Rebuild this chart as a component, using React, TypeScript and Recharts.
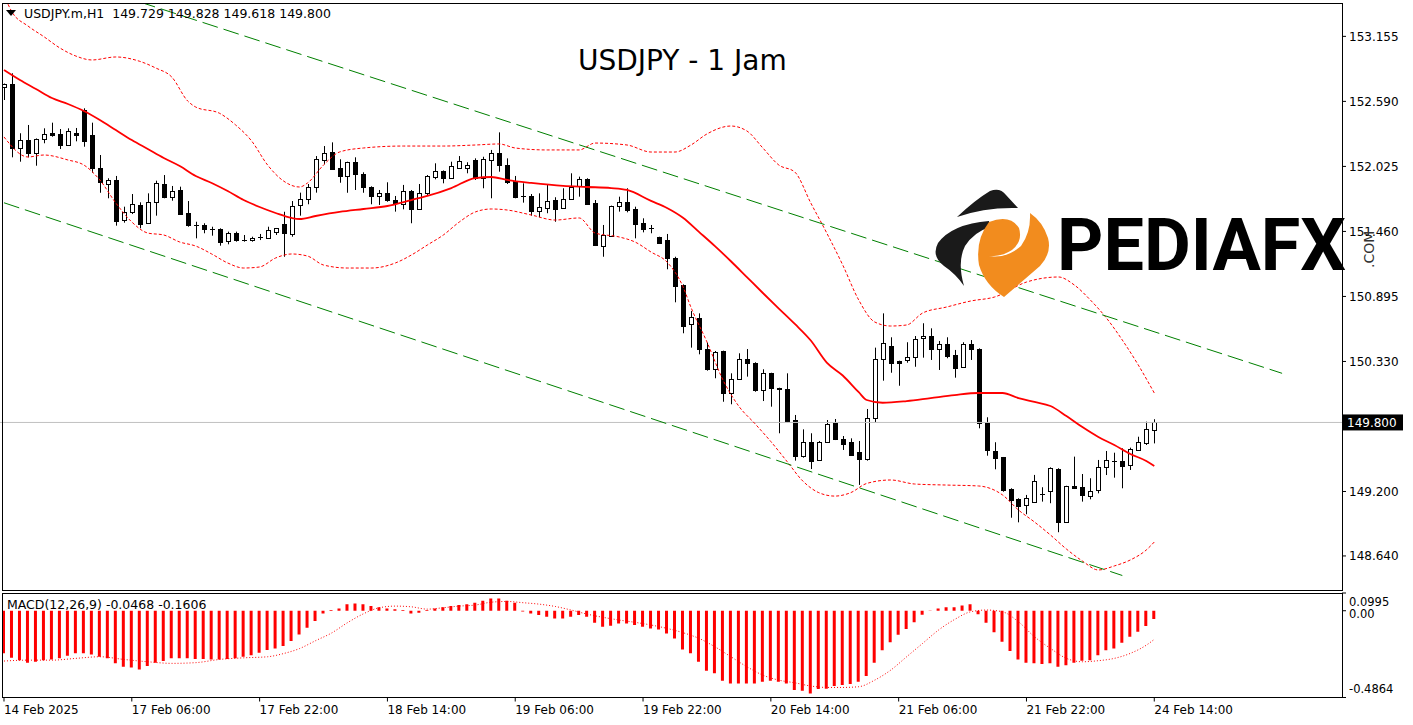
import React from 'react';
import { ComposedChart, Bar, Line, XAxis, YAxis, ReferenceLine } from 'recharts';

const FONT = '"DejaVu Sans", Verdana, sans-serif';

// ---- candles (H1) ----
const opens = [
  152.711, 152.741, 152.182, 152.254, 152.144, 152.261, 152.318, 152.307, 152.214, 152.318,
  152.515, 152.298, 152.008, 151.875, 151.907, 151.553, 151.626, 151.690, 151.531, 151.713,
  151.872, 151.762, 151.820, 151.617, 151.516, 151.516, 151.478, 151.481, 151.371, 151.449,
  151.385, 151.379, 151.414, 151.400, 151.449, 151.522, 151.444, 151.684, 151.739, 151.844,
  152.081, 152.148, 152.008, 151.936, 152.061, 151.956, 151.849, 151.762, 151.791, 151.733,
  151.698, 151.814, 151.655, 151.796, 151.936, 151.985, 151.927, 152.014, 152.008, 152.081,
  151.922, 152.081, 152.139, 152.037, 151.898, 151.768, 151.768, 151.631, 151.666, 151.733,
  151.661, 151.739, 151.849, 151.916, 151.704, 151.336, 151.423, 151.675, 151.713, 151.655,
  151.531, 151.487, 151.412, 151.385, 151.232, 150.994, 150.653, 150.705, 150.438, 150.262,
  150.421, 150.053, 150.175, 150.351, 150.314, 150.082, 150.227, 150.097, 150.088, 149.821,
  149.511, 149.633, 149.474, 149.628, 149.793, 149.656, 149.628, 149.541, 149.482, 149.836,
  150.349, 150.464, 150.334, 150.337, 150.366, 150.531, 150.551, 150.436, 150.482, 150.386,
  150.279, 150.482, 150.438, 149.793, 149.552, 149.497, 149.219, 149.135, 149.077, 149.112,
  149.178, 149.198, 149.393, 148.932, 149.248, 149.237, 149.164, 149.213, 149.416, 149.465,
  149.465, 149.424, 149.567, 149.624, 149.729,
];
const highs = [
  152.745, 152.834, 152.313, 152.385, 152.268, 152.356, 152.405, 152.350, 152.356, 152.359,
  152.530, 152.405, 152.124, 151.922, 151.942, 151.675, 151.785, 151.713, 151.791, 151.901,
  151.950, 151.855, 151.849, 151.724, 151.544, 151.531, 151.501, 151.487, 151.458, 151.458,
  151.429, 151.414, 151.438, 151.501, 151.490, 151.631, 151.724, 151.797, 151.872, 152.115,
  152.202, 152.234, 152.087, 152.066, 152.104, 151.974, 151.852, 151.820, 151.887, 151.768,
  151.864, 151.820, 151.872, 151.950, 152.052, 151.990, 152.066, 152.115, 152.061, 152.095,
  152.109, 152.168, 152.321, 152.095, 151.942, 151.878, 151.785, 151.791, 151.864, 151.757,
  151.835, 151.965, 151.936, 151.922, 151.733, 151.516, 151.684, 151.762, 151.835, 151.675,
  151.574, 151.516, 151.414, 151.438, 151.240, 151.000, 150.768, 150.748, 150.493, 150.421,
  150.424, 150.227, 150.401, 150.438, 150.323, 150.262, 150.232, 150.102, 150.227, 149.865,
  149.740, 149.706, 149.639, 149.821, 149.830, 149.682, 149.662, 149.639, 149.917, 150.450,
  150.748, 150.540, 150.337, 150.497, 150.551, 150.662, 150.618, 150.508, 150.540, 150.430,
  150.497, 150.516, 150.444, 149.845, 149.628, 149.500, 149.228, 149.141, 149.170, 149.344,
  149.237, 149.410, 149.402, 149.250, 149.503, 149.352, 149.315, 149.474, 149.552, 149.537,
  149.575, 149.581, 149.676, 149.807, 149.828,
];
const lows = [
  152.602, 152.104, 152.066, 152.104, 152.031, 152.226, 152.283, 152.176, 152.205, 152.243,
  152.196, 151.970, 151.796, 151.748, 151.510, 151.536, 151.611, 151.487, 151.525, 151.597,
  151.748, 151.727, 151.607, 151.501, 151.400, 151.444, 151.423, 151.336, 151.348, 151.371,
  151.371, 151.371, 151.385, 151.398, 151.429, 151.240, 151.414, 151.597, 151.696, 151.797,
  152.043, 151.994, 151.883, 151.796, 151.820, 151.796, 151.696, 151.690, 151.718, 151.632,
  151.652, 151.531, 151.651, 151.777, 151.913, 151.878, 151.922, 152.008, 151.965, 151.907,
  151.835, 151.748, 151.979, 151.872, 151.748, 151.710, 151.597, 151.583, 151.618, 151.544,
  151.657, 151.735, 151.762, 151.690, 151.333, 151.240, 151.420, 151.632, 151.626, 151.400,
  151.452, 151.444, 151.355, 151.131, 150.844, 150.575, 150.450, 150.392, 150.250, 150.184,
  149.980, 149.958, 150.169, 150.198, 150.067, 149.986, 149.937, 149.706, 149.801, 149.468,
  149.494, 149.395, 149.468, 149.624, 149.647, 149.561, 149.511, 149.257, 149.468, 149.801,
  150.163, 150.232, 150.119, 150.319, 150.284, 150.363, 150.343, 150.256, 150.358, 150.189,
  150.275, 150.343, 149.749, 149.511, 149.393, 149.198, 148.972, 148.932, 149.002, 149.109,
  149.112, 149.098, 148.846, 148.930, 149.222, 149.112, 149.132, 149.184, 149.343, 149.320,
  149.228, 149.387, 149.555, 149.604, 149.618,
];
const closes = [
  152.741, 152.182, 152.254, 152.144, 152.263, 152.307, 152.301, 152.214, 152.333, 152.301,
  152.248, 152.008, 151.883, 151.907, 151.553, 151.626, 151.696, 151.525, 151.713, 151.878,
  151.762, 151.811, 151.611, 151.510, 151.511, 151.478, 151.474, 151.371, 151.444, 151.385,
  151.381, 151.400, 151.412, 151.472, 151.487, 151.444, 151.684, 151.739, 151.844, 152.087,
  152.144, 152.003, 151.936, 152.061, 151.956, 151.844, 151.770, 151.791, 151.727, 151.704,
  151.814, 151.655, 151.791, 151.942, 151.985, 151.927, 152.029, 152.072, 152.037, 151.922,
  152.087, 152.139, 152.031, 151.892, 151.762, 151.764, 151.640, 151.670, 151.724, 151.655,
  151.739, 151.844, 151.913, 151.698, 151.336, 151.429, 151.681, 151.713, 151.640, 151.525,
  151.481, 151.483, 151.357, 151.227, 150.988, 150.641, 150.714, 150.436, 150.262, 150.410,
  150.053, 150.175, 150.349, 150.314, 150.076, 150.227, 150.097, 150.086, 149.813, 149.511,
  149.633, 149.468, 149.628, 149.787, 149.656, 149.613, 149.517, 149.482, 149.836, 150.349,
  150.488, 150.319, 150.319, 150.366, 150.523, 150.551, 150.436, 150.479, 150.380, 150.276,
  150.482, 150.436, 149.798, 149.555, 149.494, 149.213, 149.126, 149.077, 149.141, 149.294,
  149.172, 149.402, 148.932, 149.248, 149.233, 149.164, 149.207, 149.410, 149.474, 149.461,
  149.424, 149.567, 149.633, 149.743, 149.800,
];

// ---- Bollinger bands (bar index, price) ----
const upperBand: [number, number][] = [
  [0, 153.514], [1, 153.367], [3, 153.245], [5, 153.152], [7, 153.054], [9, 152.984], [11, 152.950],
  [14, 152.976], [17, 152.938], [19, 152.880], [21, 152.802], [23, 152.593], [24, 152.541], [27, 152.486],
  [29, 152.385], [31, 152.246], [33, 152.037], [35, 151.898], [37, 151.846], [38, 151.881], [40, 152.037],
  [42, 152.150], [45, 152.185], [50, 152.202], [55, 152.202], [59, 152.211], [62, 152.220], [64, 152.185],
  [68, 152.168], [72, 152.168], [74, 152.228], [78, 152.211], [81, 152.150], [84, 152.150], [86, 152.211],
  [88, 152.307], [91, 152.376], [93, 152.333], [95, 152.185], [97, 152.037], [99, 151.976], [101, 151.707],
  [103, 151.446], [105, 151.168], [107, 150.864], [109, 150.673], [111, 150.638], [113, 150.647],
  [115, 150.751], [118, 150.803], [121, 150.855], [124, 150.890], [128, 151.020], [132, 151.064],
  [134, 150.994], [136, 150.864], [138, 150.708], [140, 150.516], [142, 150.299], [144, 150.056],
];
const middleBand: [number, number][] = [
  [0, 152.863], [2, 152.776], [4, 152.698], [6, 152.619], [8, 152.567], [10, 152.506], [12, 152.428],
  [14, 152.341], [16, 152.254], [18, 152.176], [20, 152.098], [22, 152.028], [24, 151.942], [26, 151.881],
  [28, 151.811], [30, 151.733], [32, 151.672], [34, 151.620], [36, 151.577], [37, 151.568], [39, 151.594],
  [42, 151.629], [45, 151.655], [48, 151.681], [51, 151.733], [53, 151.768], [56, 151.837], [59, 151.924],
  [61, 151.933], [63, 151.907], [66, 151.881], [70, 151.855], [73, 151.846], [76, 151.837], [78, 151.820],
  [81, 151.725], [83, 151.664], [85, 151.579], [87, 151.456], [89, 151.332], [91, 151.201], [93, 151.063],
  [95, 150.925], [97, 150.790], [99, 150.656], [101, 150.512], [103, 150.320], [105, 150.208], [107, 150.063],
  [108, 149.995], [110, 149.971], [113, 149.986], [116, 150.012], [119, 150.038], [122, 150.056],
  [125, 150.056], [127, 150.012], [129, 149.978], [131, 149.943], [133, 149.856], [135, 149.760],
  [137, 149.674], [139, 149.604], [141, 149.526], [143, 149.465], [144, 149.422],
];
const lowerBand: [number, number][] = [
  [0, 152.281], [3, 152.107], [5, 152.124], [8, 152.081], [10, 152.037], [12, 151.907], [14, 151.707],
  [16, 151.542], [18, 151.446], [20, 151.429], [22, 151.368], [24, 151.333], [26, 151.264], [28, 151.186],
  [30, 151.142], [32, 151.151], [34, 151.229], [36, 151.264], [38, 151.246], [40, 151.168], [43, 151.142],
  [46, 151.142], [49, 151.186], [51, 151.255], [53, 151.342], [55, 151.429], [57, 151.542], [59, 151.629],
  [61, 151.655], [63, 151.646], [66, 151.603], [69, 151.559], [72, 151.577], [74, 151.446], [77, 151.412],
  [79, 151.368], [81, 151.281], [83, 151.194], [85, 150.980], [86, 150.800], [88, 150.500], [90, 150.170],
  [92, 149.940], [94, 149.790], [96, 149.634], [98, 149.463], [100, 149.291], [102, 149.190], [104, 149.160],
  [106, 149.190], [108, 149.270], [111, 149.300], [114, 149.265], [118, 149.256], [122, 149.248],
  [125, 149.170], [127, 149.039], [129, 148.935], [131, 148.822], [133, 148.700], [135, 148.596],
  [137, 148.518], [139, 148.553], [141, 148.605], [143, 148.692], [144, 148.761],
];

// ---- MACD(12,26,9) ----
const macdMain = [
  -0.239, -0.263, -0.277, -0.291, -0.286, -0.277, -0.273, -0.267, -0.252, -0.239,
  -0.239, -0.245, -0.258, -0.267, -0.295, -0.314, -0.318, -0.329, -0.310, -0.291,
  -0.282, -0.267, -0.267, -0.267, -0.271, -0.271, -0.273, -0.273, -0.271, -0.267,
  -0.258, -0.249, -0.235, -0.220, -0.211, -0.198, -0.170, -0.133, -0.095, -0.058,
  -0.015, 0.004, 0.013, 0.036, 0.041, 0.036, 0.026, 0.019, 0.013, 0.008,
  0.004, -0.015, -0.011, 0.004, 0.013, 0.019, 0.026, 0.032, 0.037, 0.045,
  0.056, 0.069, 0.069, 0.056, 0.045, -0.004, -0.015, -0.024, -0.034, -0.043,
  -0.043, -0.034, -0.024, -0.034, -0.067, -0.090, -0.084, -0.071, -0.071, -0.080,
  -0.090, -0.099, -0.105, -0.127, -0.155, -0.217, -0.239, -0.286, -0.336, -0.351,
  -0.393, -0.408, -0.408, -0.408, -0.408, -0.398, -0.393, -0.398, -0.408, -0.445,
  -0.449, -0.464, -0.439, -0.437, -0.422, -0.417, -0.411, -0.398, -0.366, -0.292,
  -0.221, -0.176, -0.135, -0.103, -0.064, -0.022, 0.002, 0.013, 0.019, 0.019,
  0.030, 0.037, -0.019, -0.067, -0.120, -0.174, -0.226, -0.273, -0.292, -0.295,
  -0.299, -0.295, -0.314, -0.305, -0.292, -0.280, -0.277, -0.249, -0.221, -0.211,
  -0.180, -0.146, -0.118, -0.086, -0.0468,
];
const macdSignal: [number, number][] = [
  [0, -0.282], [3, -0.277], [6, -0.277], [9, -0.267], [12, -0.258], [15, -0.273], [18, -0.286],
  [21, -0.295], [24, -0.291], [27, -0.273], [30, -0.264], [33, -0.258], [35, -0.240], [37, -0.212],
  [39, -0.168], [41, -0.125], [43, -0.067], [45, -0.017], [47, 0.017], [49, 0.026], [51, 0.022],
  [53, 0.009], [55, 0.017], [57, 0.026], [59, 0.032], [61, 0.048], [63, 0.052], [65, 0.045],
  [67, 0.037], [69, 0.024], [71, 0.004], [73, -0.019], [75, -0.037], [77, -0.052], [79, -0.065],
  [81, -0.080], [83, -0.099], [85, -0.123], [87, -0.155], [89, -0.202], [91, -0.258], [93, -0.314],
  [95, -0.361], [97, -0.389], [99, -0.404], [101, -0.422], [103, -0.430], [105, -0.430], [107, -0.426],
  [109, -0.389], [111, -0.333], [113, -0.258], [115, -0.183], [117, -0.108], [119, -0.049],
  [121, -0.006], [123, 0.004], [125, -0.006], [127, -0.062], [129, -0.146], [131, -0.211],
  [133, -0.267], [135, -0.286], [137, -0.280], [139, -0.267], [141, -0.239], [143, -0.193],
  [144, -0.1606],
];

// ---- trend channel (bar index, price) ----
const channelUpper: [number, number][] = [[17, 153.454], [160, 150.227]];
const channelLower: [number, number][] = [[0, 151.709], [140, 148.470]];

// ---- axes ----
const xTickIdx = [0, 16, 32, 48, 64, 80, 96, 112, 128, 144];
const xTickLabels = [
  '14 Feb 2025', '17 Feb 06:00', '17 Feb 22:00', '18 Feb 14:00', '19 Feb 06:00',
  '19 Feb 22:00', '20 Feb 14:00', '21 Feb 06:00', '21 Feb 22:00', '24 Feb 14:00',
];
const priceTicks = [153.155, 152.59, 152.025, 151.46, 150.895, 150.33, 149.8, 149.2, 148.64];
const macdTicks = [0.0995, 0, -0.4864];
const lastPrice = 149.8;
const priceDomain: [number, number] = [148.344, 153.445];
const macdDomain: [number, number] = [-0.4864, 0.0995];
const SLOTS = 168;

const priceRows = Array.from({ length: SLOTS }, (_, i) => ({
  i,
  o: i < opens.length ? opens[i] : null,
  h: i < highs.length ? highs[i] : null,
  l: i < lows.length ? lows[i] : null,
  c: i < closes.length ? closes[i] : null,
  bu: null as number | null,
  bm: null as number | null,
  bl: null as number | null,
}));
upperBand.forEach(([i, v]) => { priceRows[i].bu = v; });
middleBand.forEach(([i, v]) => { priceRows[i].bm = v; });
lowerBand.forEach(([i, v]) => { priceRows[i].bl = v; });

const macdRows = Array.from({ length: SLOTS }, (_, i) => ({
  i,
  m: i < macdMain.length ? macdMain[i] : null,
  s: null as number | null,
}));
macdSignal.forEach(([i, v]) => { macdRows[i].s = v; });

const Candle = (p: any) => {
  const { x, y, width, height, payload } = p;
  if (!payload || payload.o == null || height == null) return null;
  const { o, h, l, c } = payload;
  const cx = Math.round(x + width / 2) + 0.5;
  const span = h - l;
  const k = span > 0 ? height / span : 0;
  const yO = y + (h - o) * k;
  const yC = y + (h - c) * k;
  const top = Math.min(yO, yC);
  const bot = Math.max(yO, yC);
  const bull = c >= o;
  return (
    <g>
      <line x1={cx} x2={cx} y1={y} y2={y + height} stroke="#000" strokeWidth={1} />
      {bot - top < 1.2 ? (
        <line x1={cx - 2.5} x2={cx + 2.5} y1={Math.round(top) + 0.5} y2={Math.round(top) + 0.5} stroke="#000" strokeWidth={1} />
      ) : (
        <rect x={cx - 2} y={Math.round(top) + 0.5} width={4} height={Math.max(1, Math.round(bot - top))} fill={bull ? '#fff' : '#000'} stroke="#000" strokeWidth={1} />
      )}
    </g>
  );
};

const PriceTick = (p: any) => {
  const { x, y, payload } = p;
  const v = payload.value as number;
  if (Math.abs(v - lastPrice) < 1e-6) {
    return (
      <g>
        <rect x={1343} y={y - 8} width={60} height={16} fill="#000" />
        <text x={1347} y={y + 4.5} fill="#fff" fontSize={12} fontFamily={FONT}>{v.toFixed(3)}</text>
      </g>
    );
  }
  return (
    <text x={x} y={y + 4.3} fill="#000" fontSize={12} fontFamily={FONT} textAnchor="start">{v.toFixed(3)}</text>
  );
};

const MacdTick = (p: any) => {
  const { x, y, payload } = p;
  const v = payload.value as number;
  const shift = v > 0.05 ? 8.5 : v < -0.3 ? -8.5 : 3.5;
  const txt = v === 0 ? '0.00' : v.toFixed(4);
  return (
    <text x={x} y={y + shift + 4} fill="#000" fontSize={11.5} fontFamily={FONT} textAnchor="start">{txt}</text>
  );
};

const TimeTick = (p: any) => {
  const { x, y, payload } = p;
  const idx = xTickIdx.indexOf(payload.value);
  return (
    <text x={x} y={y + 10.5} fill="#000" fontSize={12} fontFamily={FONT} textAnchor="start">{idx >= 0 ? xTickLabels[idx] : ''}</text>
  );
};

export default function App() {
  return (
    <div style={{ position: 'absolute', left: 0, top: 0, width: 1413, height: 725, background: '#fff', overflow: 'hidden' }}>
      <div style={{ position: 'absolute', left: 0, top: 0 }}>
        <ComposedChart width={1413} height={591} data={priceRows} margin={{ top: 3, right: 0, bottom: 1, left: 0 }}>
          <XAxis dataKey="i" type="category" hide />
          <YAxis
            orientation="right"
            width={71}
            domain={priceDomain}
            allowDataOverflow
            ticks={priceTicks}
            interval={0}
            axisLine={false}
            tickLine={{ stroke: '#000' }}
            tickSize={4}
            tickMargin={3}
            tick={(props: any) => <PriceTick {...props} />}
          />
          <ReferenceLine y={lastPrice} stroke="#c0c0c0" strokeWidth={1} />
          <Bar
            dataKey={(d: any) => (d.o == null ? null : [d.l, d.h])}
            barSize={6}
            isAnimationActive={false}
            shape={(props: any) => <Candle {...props} />}
          />
          <Line dataKey="bu" type="monotone" stroke="#ff0000" strokeWidth={1} strokeDasharray="3 2" dot={false} connectNulls isAnimationActive={false} />
          <Line dataKey="bl" type="monotone" stroke="#ff0000" strokeWidth={1} strokeDasharray="3 2" dot={false} connectNulls isAnimationActive={false} />
          <Line dataKey="bm" type="monotone" stroke="#ff0000" strokeWidth={1.8} dot={false} connectNulls isAnimationActive={false} />
          <ReferenceLine
            segment={[{ x: channelUpper[0][0], y: channelUpper[0][1] }, { x: channelUpper[1][0], y: channelUpper[1][1] }]}
            stroke="#008000"
            strokeDasharray="16 6"
            ifOverflow="hidden"
          />
          <ReferenceLine
            segment={[{ x: channelLower[0][0], y: channelLower[0][1] }, { x: channelLower[1][0], y: channelLower[1][1] }]}
            stroke="#008000"
            strokeDasharray="16 6"
            ifOverflow="hidden"
          />
        </ComposedChart>
      </div>
      <div style={{ position: 'absolute', left: 0, top: 590 }}>
        <ComposedChart width={1413} height={135} data={macdRows} margin={{ top: 3, right: 0, bottom: 0, left: 0 }}>
          <XAxis
            dataKey="i"
            type="category"
            ticks={xTickIdx}
            interval={0}
            height={27.5}
            axisLine={false}
            tickLine={{ stroke: '#000' }}
            tickSize={4}
            tickMargin={2}
            tick={(props: any) => <TimeTick {...props} />}
          />
          <YAxis
            orientation="right"
            width={71}
            domain={macdDomain}
            allowDataOverflow
            ticks={macdTicks}
            interval={0}
            axisLine={false}
            tickLine={{ stroke: '#000' }}
            tickSize={4}
            tickMargin={3}
            tick={(props: any) => <MacdTick {...props} />}
          />
          <Bar dataKey="m" fill="#ff0000" barSize={3} isAnimationActive={false} />
          <Line dataKey="s" type="monotone" stroke="#ff0000" strokeWidth={1} strokeDasharray="1 2" dot={false} connectNulls isAnimationActive={false} />
        </ComposedChart>
      </div>
      <svg width={1413} height={725} style={{ position: 'absolute', left: 0, top: 0, pointerEvents: 'none' }}>
        <rect x={2.5} y={3.5} width={1340} height={587} fill="none" stroke="#000" strokeWidth={1} />
        <rect x={2.5} y={593.5} width={1340} height={104} fill="none" stroke="#000" strokeWidth={1} />
        <polygon points="6,10 16,10 11,16" fill="#000" />
        <text x={24} y={17.5} fontFamily={FONT} fontSize={12.5} fill="#000" style={{ whiteSpace: 'pre' }}>USDJPY.m,H1  149.729 149.828 149.618 149.800</text>
        <text x={578} y={70} fontFamily={FONT} fontSize={28} fill="#000">USDJPY - 1 Jam</text>
        <text x={7} y={609} fontFamily={FONT} fontSize={12.5} fill="#000">MACD(12,26,9) -0.0468 -0.1606</text>
        {/* PEDIAFX watermark */}
        <path d="M957 217 Q975 200 990 191 Q1000 187 1006 195 L1018 208 Q985 207 957 217 Z" fill="#1a1a1a" />
        <path d="M989 221 Q952 224 938 243 Q931 256 944 266 Q956 274 964 286 Q957 262 965 246 Q974 232 990 227 Z" fill="#1a1a1a" />
        <path d="M989 222 Q1010 214 1019 228 Q1023 241 1012 250 Q1001 257 989 256 Q1006 259 1021 246 Q1031 232 1030 213 Q1043 222 1048 238 Q1052 253 1040 266 L1004 297 Q985 285 979 265 Q975 240 989 222 Z" fill="#f28c1e" />
        <text x={1057} y={270} fontFamily="Roboto, 'Noto Sans', sans-serif" fontWeight={700} fontSize={72} fill="#000">PEDIAFX</text>
        <text transform="translate(1374,268) rotate(-90)" fontFamily={FONT} fontSize={14} fill="#333">.COM</text>
      </svg>
    </div>
  );
}
